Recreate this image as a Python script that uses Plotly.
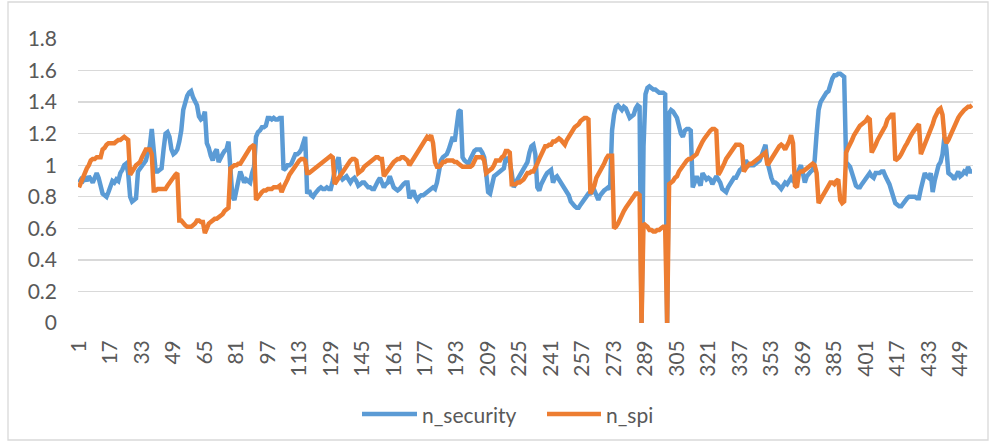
import plotly.graph_objects as go

categories = list(range(1, 456))

tick_labels = [1, 17, 33, 49, 65, 81, 97, 113, 129, 145, 161, 177, 193, 209, 225, 241,
               257, 273, 289, 305, 321, 337, 353, 369, 385, 401, 417, 433, 449]

n_security = [
    0.89, 0.91, 0.90, 0.92, 0.90, 0.93, 0.91, 0.89, 0.92, 0.95,
    0.92, 0.86, 0.82, 0.81, 0.80, 0.83, 0.87, 0.90, 0.89, 0.91,
    0.90, 0.95, 0.97, 1.00, 1.01, 0.95, 0.80, 0.77, 0.78, 0.79,
    0.96, 0.98, 1.00, 1.01, 1.03, 1.08, 1.12, 1.23, 1.05, 0.96,
    0.96, 0.97, 0.98, 1.10, 1.20, 1.21, 1.18, 1.10, 1.07, 1.08,
    1.10, 1.15, 1.22, 1.35, 1.41, 1.44, 1.46, 1.47, 1.43, 1.40,
    1.38, 1.31, 1.29, 1.30, 1.34, 1.14, 1.11, 1.06, 1.03, 1.08,
    1.10, 1.02, 1.05, 1.07, 1.09, 1.10, 1.15, 1.00, 0.80, 0.78,
    0.86, 0.90, 0.96, 0.92, 0.89, 0.91, 0.90, 0.89, 0.95, 0.99,
    1.18, 1.21, 1.22, 1.24, 1.24, 1.25, 1.30, 1.30, 1.29, 1.30,
    1.29, 1.29, 1.30, 1.30, 0.97, 0.98, 1.00, 1.00, 1.01, 1.04,
    1.07, 1.07, 1.08, 1.10, 1.14, 1.18, 0.82, 0.84, 0.81, 0.80,
    0.82, 0.84, 0.85, 0.86, 0.85, 0.85, 0.86, 0.85, 0.85, 0.90,
    0.97, 1.02, 1.05, 0.93, 0.91, 0.92, 0.93, 0.91, 0.89, 0.91,
    0.92, 0.90, 0.87, 0.88, 0.89, 0.89, 0.87, 0.86, 0.86, 0.85,
    0.85, 0.88, 0.90, 0.92, 0.89, 0.86, 0.88, 0.89, 0.93, 0.90,
    0.86, 0.85, 0.84, 0.85, 0.87, 0.88, 0.89, 0.89, 0.79, 0.82,
    0.84, 0.80, 0.78, 0.80, 0.81, 0.81, 0.82, 0.83, 0.84, 0.85,
    0.86, 0.85, 0.89, 0.96, 1.03, 1.05, 1.06, 1.07, 1.10, 1.14,
    1.18, 1.15, 1.25, 1.34, 1.35, 1.05, 1.03, 1.02, 1.01, 1.04,
    1.07, 1.09, 1.10, 1.10, 1.10, 1.08, 1.05, 0.95, 0.83, 0.82,
    0.88, 0.93, 0.94, 0.95, 0.96, 0.97, 0.98, 1.05, 1.03, 1.02,
    0.95, 0.86, 0.89, 0.91, 0.93, 0.95, 0.97, 1.00, 1.02, 1.08,
    1.12, 1.13, 1.07, 0.86, 0.84, 0.88, 0.91, 0.93, 0.95, 0.96,
    0.97, 0.89, 0.92, 0.93, 0.91, 0.88, 0.86, 0.85, 0.83, 0.81,
    0.77, 0.75, 0.74, 0.73, 0.73, 0.75, 0.77, 0.79, 0.80, 0.82,
    0.82, 0.83, 0.84, 0.81, 0.78, 0.81, 0.83, 0.84, 0.85, 0.86,
    0.85, 1.22, 1.32, 1.37, 1.38, 1.36, 1.35, 1.37, 1.36, 1.33,
    1.30, 1.31, 1.32, 1.36, 1.38, 1.37, 0.00, 1.12, 1.45, 1.49,
    1.50, 1.49, 1.48, 1.48, 1.47, 1.46, 1.46, 1.46, 1.45, 0.00,
    1.33, 1.35, 1.34, 1.32, 1.30, 1.25, 1.20, 1.18, 1.22, 1.23,
    1.23, 1.22, 0.86, 0.89, 0.93, 0.90, 0.87, 0.95, 0.93, 0.91,
    0.92, 0.91, 0.88, 0.90, 0.93, 0.91, 0.89, 0.85, 0.84, 0.83,
    0.86, 0.88, 0.91, 0.92, 0.92, 0.95, 0.97, 0.98, 1.00, 1.03,
    1.01, 1.00, 1.00, 1.00, 1.01, 1.02, 1.03, 1.06, 1.10, 1.13,
    1.02, 0.95, 0.92, 0.89, 0.89, 0.88, 0.86, 0.85, 0.87, 0.89,
    0.88, 0.90, 0.92, 0.90, 0.89, 0.94, 0.97, 1.00, 0.95, 0.89,
    0.93, 0.95, 0.96, 0.97, 1.03, 1.20, 1.35, 1.40, 1.42, 1.45,
    1.46, 1.47, 1.52, 1.55, 1.57, 1.57, 1.58, 1.58, 1.57, 1.56,
    1.02, 1.00, 0.99, 0.95, 0.91, 0.87, 0.86, 0.86, 0.88, 0.90,
    0.92, 0.93, 0.95, 0.93, 0.92, 0.95, 0.95, 0.95, 0.96, 0.96,
    0.93, 0.91, 0.88, 0.84, 0.80, 0.76, 0.75, 0.74, 0.74, 0.76,
    0.78, 0.79, 0.80, 0.80, 0.80, 0.80, 0.79, 0.79, 0.85, 0.90,
    0.95, 0.93, 0.92, 0.95, 0.83, 0.90, 0.97, 1.00, 1.02, 1.07,
    1.18, 1.10, 0.95, 0.94, 0.93, 0.91, 0.94, 0.96, 0.93, 0.94,
    0.96, 0.95, 0.99, 0.96, 0.96,
]

n_spi = [
    0.86, 0.89, 0.93, 0.96, 0.98, 1.00, 1.03, 1.04, 1.04, 1.05,
    1.05, 1.05, 1.10, 1.11, 1.13, 1.14, 1.14, 1.14, 1.14, 1.15,
    1.16, 1.16, 1.17, 1.18, 1.17, 1.16, 0.94, 0.96, 0.99, 1.00,
    1.01, 1.02, 1.05, 1.08, 1.10, 1.10, 1.10, 1.07, 0.84, 0.84,
    0.85, 0.85, 0.85, 0.85, 0.85, 0.87, 0.89, 0.91, 0.93, 0.94,
    0.95, 0.65, 0.65, 0.63, 0.62, 0.61, 0.61, 0.61, 0.62, 0.63,
    0.65, 0.65, 0.64, 0.64, 0.57, 0.60, 0.63, 0.64, 0.65, 0.66,
    0.66, 0.67, 0.68, 0.69, 0.71, 0.72, 0.73, 0.98, 0.99, 1.00,
    1.00, 1.01, 1.01, 1.03, 1.05, 1.08, 1.10, 1.11, 1.12, 1.13,
    0.78, 0.80, 0.82, 0.83, 0.84, 0.84, 0.85, 0.85, 0.85, 0.86,
    0.86, 0.86, 0.87, 0.83, 0.86, 0.88, 0.91, 0.94, 0.96, 0.98,
    0.99, 1.01, 1.03, 1.04, 1.04, 1.03, 0.95, 0.95, 0.96, 0.97,
    0.98, 0.99, 1.00, 1.01, 1.02, 1.03, 1.04, 1.05, 1.06, 1.05,
    0.88, 0.90, 0.92, 0.94, 0.96, 0.98, 0.99, 1.01, 1.03, 1.04,
    1.04, 1.03, 0.95, 0.96, 0.97, 0.99, 1.00, 1.01, 1.02, 1.03,
    1.04, 1.05, 1.05, 1.04, 1.04, 0.93, 0.95, 0.97, 0.99, 1.01,
    1.02, 1.03, 1.04, 1.04, 1.05, 1.05, 1.04, 1.03, 1.00, 1.02,
    1.04, 1.05, 1.07, 1.10, 1.12, 1.14, 1.16, 1.18, 1.17, 1.19,
    1.14, 1.02, 0.99, 0.99, 1.00, 1.02, 1.02, 1.03, 1.03, 1.03,
    1.03, 1.02, 1.02, 1.01, 1.00, 0.99, 0.99, 0.99, 0.99, 0.99,
    1.00, 1.02, 1.05, 1.05, 1.05, 1.05, 1.03, 0.95, 0.96, 0.97,
    0.98, 1.00, 1.03, 1.03, 1.03, 1.05, 1.06, 1.09, 1.09, 1.08,
    0.88, 0.88, 0.88, 0.89, 0.89, 0.90, 0.91, 0.93, 0.95, 0.95,
    0.96, 0.96, 0.98, 1.01, 1.04, 1.07, 1.10, 1.12, 1.12, 1.13,
    1.13, 1.15, 1.15, 1.16, 1.17, 1.16, 1.14, 1.13, 1.16, 1.18,
    1.21, 1.23, 1.24, 1.25, 1.26, 1.28, 1.29, 1.30, 1.30, 1.29,
    0.82, 0.85, 0.87, 0.92, 0.94, 0.96, 0.98, 1.01, 1.04, 1.06,
    1.06, 1.06, 0.60, 0.61, 0.63, 0.66, 0.69, 0.71, 0.73, 0.75,
    0.77, 0.79, 0.80, 0.82, 0.82, 0.81, 0.00, 0.63, 0.62, 0.61,
    0.59, 0.59, 0.58, 0.58, 0.59, 0.59, 0.60, 0.61, 0.61, 0.00,
    0.88, 0.89, 0.90, 0.92, 0.93, 0.96, 0.98, 1.00, 1.01, 1.03,
    1.04, 1.04, 1.05, 1.06, 1.07, 1.10, 1.13, 1.15, 1.17, 1.19,
    1.21, 1.22, 1.23, 1.23, 1.22, 0.94, 0.96, 0.98, 1.01, 1.04,
    1.06, 1.08, 1.10, 1.12, 1.13, 1.13, 1.13, 1.12, 0.96, 0.98,
    1.00, 1.01, 1.01, 1.02, 1.03, 1.04, 1.05, 1.06, 1.07, 1.08,
    1.00, 1.02, 1.04, 1.06, 1.08, 1.11, 1.12, 1.13, 1.12, 1.10,
    1.12, 1.15, 1.19, 1.14, 0.87, 0.86, 0.95, 0.96, 0.96, 0.97,
    0.98, 0.99, 1.00, 1.01, 1.00, 0.95, 0.76, 0.78, 0.80, 0.83,
    0.85, 0.87, 0.89, 0.89, 0.88, 0.90, 0.91, 0.78, 0.76, 0.77,
    1.08, 1.11, 1.13, 1.16, 1.19, 1.21, 1.24, 1.25, 1.26, 1.27,
    1.28, 1.30, 1.29, 1.08, 1.10, 1.13, 1.16, 1.18, 1.21, 1.23,
    1.25, 1.29, 1.31, 1.32, 1.32, 1.03, 1.04, 1.05, 1.07, 1.10,
    1.12, 1.14, 1.17, 1.19, 1.21, 1.23, 1.24, 1.26, 1.07, 1.10,
    1.13, 1.16, 1.19, 1.23, 1.26, 1.30, 1.33, 1.35, 1.36, 1.32,
    1.18, 1.14, 1.16, 1.19, 1.22, 1.24, 1.27, 1.30, 1.32, 1.34,
    1.35, 1.36, 1.37, 1.37, 1.38,
]

assert len(n_security) == len(categories) == len(n_spi)

series_names = ["n_security", "n_spi"]
colors = ["#5B9BD5", "#ED7D31"]
TXT = "#595959"
GRID = "#D9D9D9"
FONT = "Lato"
FS = 21

W, H = 994, 447
L, R, T, B = 78, 21, 39, 124
pw = W - L - R
ph = H - T - B


def px_x(x):
    return (x - L) / pw


def px_y(y):
    return (H - B - y) / ph


fig = go.Figure()
for name, vals, col in zip(series_names, [n_security, n_spi], colors):
    fig.add_trace(go.Scatter(x=categories, y=vals, mode="lines", name=name,
                             line=dict(color=col, width=4.5), showlegend=False,
                             hoverinfo="skip"))

fig.update_layout(
    width=W, height=H,
    margin=dict(l=L, r=R, t=T, b=B),
    paper_bgcolor="white", plot_bgcolor="white",
    font=dict(family=FONT, color=TXT, size=FS),
)
fig.update_xaxes(
    range=[0.5, len(categories) + 0.5],
    tickmode="array", tickvals=tick_labels, ticktext=[str(t) for t in tick_labels],
    tickangle=-90, showgrid=False, zeroline=False, showline=False,
    ticks="", ticklabelstandoff=12, tickfont=dict(size=FS, color=TXT, family=FONT),
)
fig.update_yaxes(
    range=[0, 1.8], dtick=0.2, tick0=0, showgrid=True, gridcolor=GRID, gridwidth=1.3,
    zeroline=False, showline=False, ticks="", ticklabelstandoff=20,
    tickfont=dict(size=FS, color=TXT, family=FONT),
)

# chart border
fig.add_shape(type="rect", xref="paper", yref="paper",
              x0=px_x(8), x1=px_x(988), y0=px_y(440), y1=px_y(2),
              line=dict(color=GRID, width=1.3), fillcolor="rgba(0,0,0,0)", layer="below")

# legend
legend_items = [(362, 417, 421), (547, 601, 605)]
ly = 414
for (x0, x1, tx), name, col in zip(legend_items, series_names, colors):
    fig.add_shape(type="line", xref="paper", yref="paper",
                  x0=px_x(x0), x1=px_x(x1), y0=px_y(ly), y1=px_y(ly),
                  line=dict(color=col, width=4.5))
    fig.add_annotation(xref="paper", yref="paper", x=px_x(tx), y=px_y(ly),
                       text=name, showarrow=False, xanchor="left", yanchor="middle",
                       font=dict(size=FS, color=TXT, family=FONT), borderpad=0)

fig.write_html("out.html", config={"displayModeBar": False, "staticPlot": True},
               post_script="document.body.style.margin='0px';document.body.style.overflow='hidden';")
